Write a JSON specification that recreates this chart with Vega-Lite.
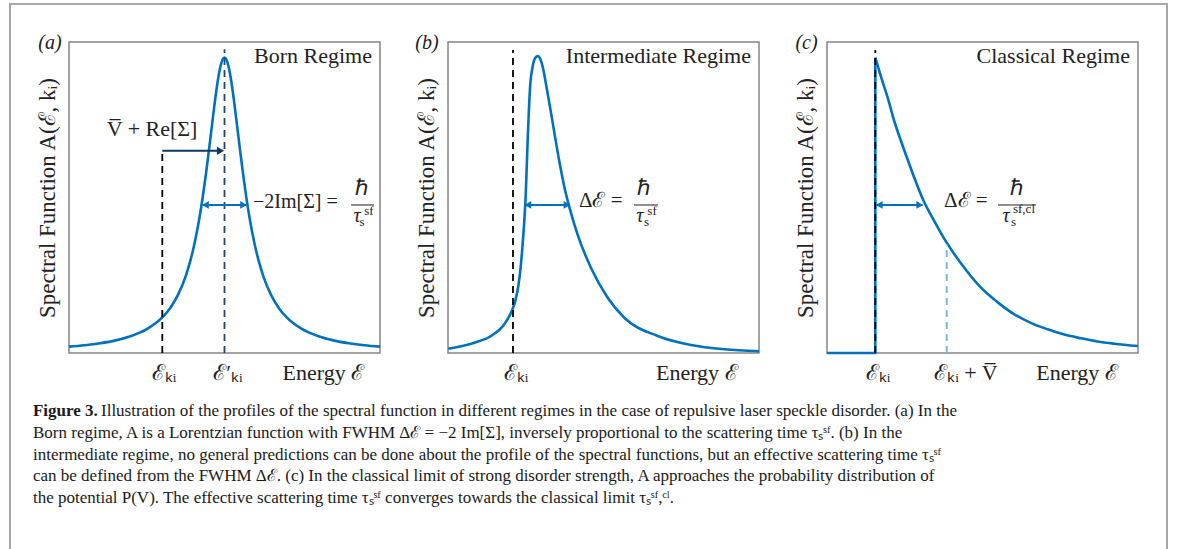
{
  "$schema": "https://vega.github.io/schema/vega-lite/v6.json",
  "padding": {"left": 8, "top": 2, "right": 0, "bottom": 0},
  "background": "white",
  "bounds": "flush",
  "columns": 3,
  "spacing": {"row": 47, "column": 68},
  "config": {
    "view": {"stroke": "#858585", "strokeWidth": 1.5},
    "font": "Liberation Serif",
    "axis": {"titleFont": "Liberation Serif", "titleFontSize": 23, "titleFontWeight": "normal", "titleColor": "#222222"}
  },
  "datasets": {
    "curveA": [
      {"x": 0, "y": 0.0204}, {"x": 0.5, "y": 0.025}, {"x": 1, "y": 0.0314}, {"x": 1.5, "y": 0.0406},
      {"x": 2, "y": 0.0545}, {"x": 2.5, "y": 0.0765}, {"x": 3, "y": 0.1144}, {"x": 3.25, "y": 0.1441},
      {"x": 3.5, "y": 0.1859}, {"x": 3.75, "y": 0.2466}, {"x": 3.9, "y": 0.296}, {"x": 4.0, "y": 0.3362},
      {"x": 4.1, "y": 0.3832}, {"x": 4.2, "y": 0.438}, {"x": 4.3, "y": 0.5014}, {"x": 4.4, "y": 0.5733},
      {"x": 4.5, "y": 0.6523}, {"x": 4.6, "y": 0.7352}, {"x": 4.7, "y": 0.8159}, {"x": 4.8, "y": 0.8853},
      {"x": 4.9, "y": 0.933}, {"x": 5.0, "y": 0.95}, {"x": 5.1, "y": 0.933}, {"x": 5.2, "y": 0.8853},
      {"x": 5.3, "y": 0.8159}, {"x": 5.4, "y": 0.7352}, {"x": 5.5, "y": 0.6523}, {"x": 5.6, "y": 0.5733},
      {"x": 5.7, "y": 0.5014}, {"x": 5.8, "y": 0.438}, {"x": 5.9, "y": 0.3832}, {"x": 6.0, "y": 0.3362},
      {"x": 6.1, "y": 0.296}, {"x": 6.25, "y": 0.2466}, {"x": 6.5, "y": 0.1859}, {"x": 6.75, "y": 0.1441},
      {"x": 7, "y": 0.1144}, {"x": 7.5, "y": 0.0765}, {"x": 8, "y": 0.0545}, {"x": 8.5, "y": 0.0406},
      {"x": 9, "y": 0.0314}, {"x": 9.5, "y": 0.025}, {"x": 10, "y": 0.0204}
    ],
    "curveB": [
      {"x": 0.01, "y": 0.0138}, {"x": 0.846, "y": 0.0331}, {"x": 1.383, "y": 0.0547}, {"x": 1.81, "y": 0.0923},
      {"x": 2.05, "y": 0.135}, {"x": 2.17, "y": 0.17}, {"x": 2.26, "y": 0.215}, {"x": 2.33, "y": 0.27},
      {"x": 2.4, "y": 0.35}, {"x": 2.45, "y": 0.42}, {"x": 2.5, "y": 0.51}, {"x": 2.56, "y": 0.68},
      {"x": 2.646, "y": 0.865}, {"x": 2.72, "y": 0.92}, {"x": 2.8, "y": 0.948}, {"x": 2.884, "y": 0.955},
      {"x": 2.97, "y": 0.945}, {"x": 3.05, "y": 0.918}, {"x": 3.151, "y": 0.865}, {"x": 3.3, "y": 0.78},
      {"x": 3.45, "y": 0.69}, {"x": 3.6, "y": 0.605}, {"x": 3.75, "y": 0.53}, {"x": 3.9, "y": 0.47},
      {"x": 4.17, "y": 0.38}, {"x": 4.6, "y": 0.2733}, {"x": 5.135, "y": 0.1778}, {"x": 5.669, "y": 0.1135},
      {"x": 6.743, "y": 0.0547}, {"x": 7.814, "y": 0.0257}, {"x": 8.884, "y": 0.0119}, {"x": 10.0, "y": 0.0055}
    ],
    "curveC1": [{"x": 0, "y": 0}, {"x": 1.553, "y": 0}, {"x": 1.553, "y": 0.9495}],
    "curveC2": [
      {"x": 1.553, "y": 0.9495}, {"x": 1.75, "y": 0.884}, {"x": 1.952, "y": 0.8209}, {"x": 2.15, "y": 0.75},
      {"x": 2.379, "y": 0.6817}, {"x": 2.6, "y": 0.62}, {"x": 2.807, "y": 0.5637}, {"x": 3.109, "y": 0.4887},
      {"x": 3.45, "y": 0.4244}, {"x": 3.849, "y": 0.3547}, {"x": 4.415, "y": 0.2743}, {"x": 4.952, "y": 0.21},
      {"x": 5.5, "y": 0.162}, {"x": 6.023, "y": 0.1244}, {"x": 6.55, "y": 0.097}, {"x": 7.096, "y": 0.0762},
      {"x": 7.6, "y": 0.06}, {"x": 8.167, "y": 0.0473}, {"x": 8.7, "y": 0.037}, {"x": 9.238, "y": 0.0299},
      {"x": 10.0, "y": 0.0225}
    ]
  },
  "concat": [
    {
      "width": 311, "height": 311,
      "encoding": {
        "x": {"field": "x", "type": "quantitative", "scale": {"domain": [0, 10], "nice": false, "zero": false}, "axis": null},
        "y": {"field": "y", "type": "quantitative", "scale": {"domain": [0, 1], "nice": false, "zero": false},
              "axis": {"title": "Spectral Function  A(ℰ, kᵢ)", "labels": false, "ticks": false, "domain": false, "grid": false, "titlePadding": 10}}
      },
      "layer": [
        {"data": {"values": [{"x": -1.897, "x2": 35.305, "y": 1.1222, "y2": -0.6656}]},
         "mark": {"type": "rect", "filled": false, "stroke": "#a8a8a8", "strokeWidth": 2},
         "encoding": {"x2": {"field": "x2"}, "y2": {"field": "y2"}}},
        {"data": {"name": "curveA"}, "mark": {"type": "line", "color": "#0072BD", "strokeWidth": 2.6, "interpolate": "monotone"}},
        {"data": {"values": [{"x": 3.0, "y": 0, "y2": 0.65}]}, "mark": {"type": "rule", "color": "#000000", "strokeWidth": 1.8, "strokeDash": [7, 5]}, "encoding": {"y2": {"field": "y2"}}},
        {"data": {"values": [{"x": 5.0, "y": 0, "y2": 0.977}]}, "mark": {"type": "rule", "color": "#24466b", "strokeWidth": 1.8, "strokeDash": [7, 5]}, "encoding": {"y2": {"field": "y2"}}},
        {"data": {"values": [{"x": 3.0, "x2": 4.85, "y": 0.65}]}, "mark": {"type": "rule", "color": "#0d3a63", "strokeWidth": 2}, "encoding": {"x2": {"field": "x2"}}},
        {"data": {"values": [{"x": 5.0, "y": 0.65}]}, "mark": {"type": "point", "shape": "triangle-right", "filled": true, "size": 70, "color": "#0d3a63", "opacity": 1, "xOffset": -4}},
        {"data": {"values": [{"x": 4.3, "x2": 5.7, "y": 0.4759}]}, "mark": {"type": "rule", "color": "#0072BD", "strokeWidth": 2}, "encoding": {"x2": {"field": "x2"}}},
        {"data": {"values": [{"x": 5.74, "y": 0.4759}]}, "mark": {"type": "point", "shape": "triangle-right", "filled": true, "size": 60, "color": "#0072BD", "opacity": 1, "xOffset": -4}},
        {"data": {"values": [{"x": 4.26, "y": 0.4759}]}, "mark": {"type": "point", "shape": "triangle-left", "filled": true, "size": 60, "color": "#0072BD", "opacity": 1, "xOffset": 4}},
        {"data": {"values": [{"x": 9.068, "x2": 9.807, "y": 0.4759}]}, "mark": {"type": "rule", "color": "#222222", "strokeWidth": 1}, "encoding": {"x2": {"field": "x2"}}},
        {"data": {"values": [{"x": 9.74, "y": 0.955, "t": "Born Regime"}]},
         "mark": {"type": "text", "align": "right", "baseline": "middle", "fontSize": 22, "color": "#222222"}, "encoding": {"text": {"field": "t"}}},
        {"data": {"values": [{"x": 5.916, "y": 0.4855, "t": "−2Im[Σ] ="}]},
         "mark": {"type": "text", "align": "left", "baseline": "middle", "fontSize": 20, "color": "#222222"}, "encoding": {"text": {"field": "t"}}},
        {"data": {"values": [
           {"x": 2.67, "y": 0.72, "t": "V̅ + Re[Σ]"}, {"x": 9.42, "y": 0.5305, "t": "ℏ"},
           {"x": 3.055, "y": -0.064, "t": "ℰₖᵢ"}, {"x": 5.11, "y": -0.064, "t": "ℰ′ₖᵢ"}, {"x": 8.18, "y": -0.064, "t": "Energy  ℰ"}]},
         "mark": {"type": "text", "align": "center", "baseline": "middle", "fontSize": 22, "color": "#222222"}, "encoding": {"text": {"field": "t"}}},
        {"data": {"values": [{"x": 9.26, "y": 0.4405, "t": "τ"}, {"x": -0.61, "y": 0.997, "t": "(a)"}]},
         "mark": {"type": "text", "align": "center", "baseline": "middle", "fontSize": 20, "fontStyle": "italic", "color": "#222222"}, "encoding": {"text": {"field": "t"}}},
        {"data": {"values": [{"x": 9.646, "y": 0.457, "t": "sf"}, {"x": 9.421, "y": 0.4212, "t": "s"}]},
         "mark": {"type": "text", "align": "center", "baseline": "middle", "fontSize": 13, "color": "#222222"}, "encoding": {"text": {"field": "t"}}}
      ]
    },
    {
      "width": 311, "height": 311,
      "encoding": {
        "x": {"field": "x", "type": "quantitative", "scale": {"domain": [0, 10], "nice": false, "zero": false}, "axis": null},
        "y": {"field": "y", "type": "quantitative", "scale": {"domain": [0, 1], "nice": false, "zero": false},
              "axis": {"title": "Spectral Function  A(ℰ, kᵢ)", "labels": false, "ticks": false, "domain": false, "grid": false, "titlePadding": 10}}
      },
      "layer": [
        {"data": {"name": "curveB"}, "mark": {"type": "line", "color": "#0072BD", "strokeWidth": 2.6, "interpolate": "monotone"}},
        {"data": {"values": [{"x": 2.09, "y": 0, "y2": 0.974}]}, "mark": {"type": "rule", "color": "#000000", "strokeWidth": 1.8, "strokeDash": [7, 5]}, "encoding": {"y2": {"field": "y2"}}},
        {"data": {"values": [{"x": 2.48, "x2": 3.915, "y": 0.4759}]}, "mark": {"type": "rule", "color": "#0072BD", "strokeWidth": 2}, "encoding": {"x2": {"field": "x2"}}},
        {"data": {"values": [{"x": 3.955, "y": 0.4759}]}, "mark": {"type": "point", "shape": "triangle-right", "filled": true, "size": 60, "color": "#0072BD", "opacity": 1, "xOffset": -4}},
        {"data": {"values": [{"x": 2.44, "y": 0.4759}]}, "mark": {"type": "point", "shape": "triangle-left", "filled": true, "size": 60, "color": "#0072BD", "opacity": 1, "xOffset": 4}},
        {"data": {"values": [{"x": 5.98, "x2": 6.75, "y": 0.4759}]}, "mark": {"type": "rule", "color": "#222222", "strokeWidth": 1}, "encoding": {"x2": {"field": "x2"}}},
        {"data": {"values": [{"x": 9.74, "y": 0.955, "t": "Intermediate Regime"}]},
         "mark": {"type": "text", "align": "right", "baseline": "middle", "fontSize": 22, "color": "#222222"}, "encoding": {"text": {"field": "t"}}},
        {"data": {"values": [{"x": 4.21, "y": 0.4887, "t": "Δℰ ="}]},
         "mark": {"type": "text", "align": "left", "baseline": "middle", "fontSize": 21, "color": "#222222"}, "encoding": {"text": {"field": "t"}}},
        {"data": {"values": [
           {"x": 6.3, "y": 0.5305, "t": "ℏ"}, {"x": 2.19, "y": -0.064, "t": "ℰₖᵢ"}, {"x": 8.0, "y": -0.064, "t": "Energy  ℰ"}]},
         "mark": {"type": "text", "align": "center", "baseline": "middle", "fontSize": 22, "color": "#222222"}, "encoding": {"text": {"field": "t"}}},
        {"data": {"values": [{"x": 6.17, "y": 0.4405, "t": "τ"}, {"x": -0.675, "y": 0.997, "t": "(b)"}]},
         "mark": {"type": "text", "align": "center", "baseline": "middle", "fontSize": 20, "fontStyle": "italic", "color": "#222222"}, "encoding": {"text": {"field": "t"}}},
        {"data": {"values": [{"x": 6.56, "y": 0.457, "t": "sf"}, {"x": 6.38, "y": 0.4212, "t": "s"}]},
         "mark": {"type": "text", "align": "center", "baseline": "middle", "fontSize": 13, "color": "#222222"}, "encoding": {"text": {"field": "t"}}}
      ]
    },
    {
      "width": 311, "height": 311,
      "encoding": {
        "x": {"field": "x", "type": "quantitative", "scale": {"domain": [0, 10], "nice": false, "zero": false}, "axis": null},
        "y": {"field": "y", "type": "quantitative", "scale": {"domain": [0, 1], "nice": false, "zero": false},
              "axis": {"title": "Spectral Function  A(ℰ, kᵢ)", "labels": false, "ticks": false, "domain": false, "grid": false, "titlePadding": 10}}
      },
      "layer": [
        {"data": {"name": "curveC1"}, "mark": {"type": "line", "color": "#0072BD", "strokeWidth": 2.6}, "encoding": {"order": {"value": null}}},
        {"data": {"name": "curveC2"}, "mark": {"type": "line", "color": "#0072BD", "strokeWidth": 2.6, "interpolate": "monotone"}},
        {"data": {"values": [{"x": 1.553, "y": 0, "y2": 0.974}]}, "mark": {"type": "rule", "color": "#000000", "strokeWidth": 1.8, "strokeDash": [7, 5]}, "encoding": {"y2": {"field": "y2"}}},
        {"data": {"values": [{"x": 3.849, "y": 0, "y2": 0.35}]}, "mark": {"type": "rule", "color": "#7ab6e3", "strokeWidth": 2, "strokeDash": [7, 5]}, "encoding": {"y2": {"field": "y2"}}},
        {"data": {"values": [{"x": 1.59, "x2": 3.07, "y": 0.4759}]}, "mark": {"type": "rule", "color": "#0072BD", "strokeWidth": 2}, "encoding": {"x2": {"field": "x2"}}},
        {"data": {"values": [{"x": 3.11, "y": 0.4759}]}, "mark": {"type": "point", "shape": "triangle-right", "filled": true, "size": 60, "color": "#0072BD", "opacity": 1, "xOffset": -4}},
        {"data": {"values": [{"x": 1.553, "y": 0.4759}]}, "mark": {"type": "point", "shape": "triangle-left", "filled": true, "size": 60, "color": "#0072BD", "opacity": 1, "xOffset": 4}},
        {"data": {"values": [{"x": 5.498, "x2": 6.72, "y": 0.4759}]}, "mark": {"type": "rule", "color": "#222222", "strokeWidth": 1}, "encoding": {"x2": {"field": "x2"}}},
        {"data": {"values": [{"x": 9.74, "y": 0.955, "t": "Classical Regime"}]},
         "mark": {"type": "text", "align": "right", "baseline": "middle", "fontSize": 22, "color": "#222222"}, "encoding": {"text": {"field": "t"}}},
        {"data": {"values": [{"x": 3.762, "y": 0.4887, "t": "Δℰ ="}]},
         "mark": {"type": "text", "align": "left", "baseline": "middle", "fontSize": 21, "color": "#222222"}, "encoding": {"text": {"field": "t"}}},
        {"data": {"values": [
           {"x": 6.1, "y": 0.5305, "t": "ℏ"}, {"x": 1.643, "y": -0.064, "t": "ℰₖᵢ"}, {"x": 4.469, "y": -0.064, "t": "ℰₖᵢ + V̅"}, {"x": 8.04, "y": -0.064, "t": "Energy  ℰ"}]},
         "mark": {"type": "text", "align": "center", "baseline": "middle", "fontSize": 22, "color": "#222222"}, "encoding": {"text": {"field": "t"}}},
        {"data": {"values": [{"x": 5.756, "y": 0.4405, "t": "τ"}, {"x": -0.659, "y": 0.997, "t": "(c)"}]},
         "mark": {"type": "text", "align": "center", "baseline": "middle", "fontSize": 20, "fontStyle": "italic", "color": "#222222"}, "encoding": {"text": {"field": "t"}}},
        {"data": {"values": [{"x": 6.334, "y": 0.463, "t": "sf,cl"}, {"x": 5.997, "y": 0.4212, "t": "s"}]},
         "mark": {"type": "text", "align": "center", "baseline": "middle", "fontSize": 13, "color": "#222222"}, "encoding": {"text": {"field": "t"}}}
      ]
    },
    {
      "width": 311, "height": 109,
      "view": {"stroke": null},
      "encoding": {
        "x": {"field": "x", "type": "quantitative", "scale": {"domain": [0, 1], "nice": false, "zero": false}, "axis": null},
        "y": {"field": "line", "type": "quantitative", "scale": {"domain": [0.5, 5.5], "reverse": true, "nice": false, "zero": false}, "axis": null},
        "text": {"field": "t"}
      },
      "layer": [
        {"data": {"values": [{"x": -0.1158, "line": 1, "t": "Figure 3."}]},
         "mark": {"type": "text", "align": "left", "baseline": "middle", "fontSize": 17, "fontWeight": "bold", "color": "#1a1a1a"}},
        {"data": {"values": [
          {"x": 0.1029, "line": 1, "t": "Illustration of the profiles of the spectral function in different regimes in the case of repulsive laser speckle disorder. (a) In the"},
          {"x": -0.1158, "line": 2, "t": "Born regime, A is a Lorentzian function with FWHM Δℰ = −2 Im[Σ], inversely proportional to the scattering time τₛˢᶠ. (b) In the"},
          {"x": -0.1158, "line": 3, "t": "intermediate regime, no general predictions can be done about the profile of the spectral functions, but an effective scattering time τₛˢᶠ"},
          {"x": -0.1158, "line": 4, "t": "can be defined from the FWHM Δℰ. (c) In the classical limit of strong disorder strength, A approaches the probability distribution of"},
          {"x": -0.1158, "line": 5, "t": "the potential P(V). The effective scattering time τₛˢᶠ converges towards the classical limit τₛˢᶠ,ᶜˡ."}
        ]},
         "mark": {"type": "text", "align": "left", "baseline": "middle", "fontSize": 17, "color": "#1a1a1a"}}
      ]
    }
  ]
}
